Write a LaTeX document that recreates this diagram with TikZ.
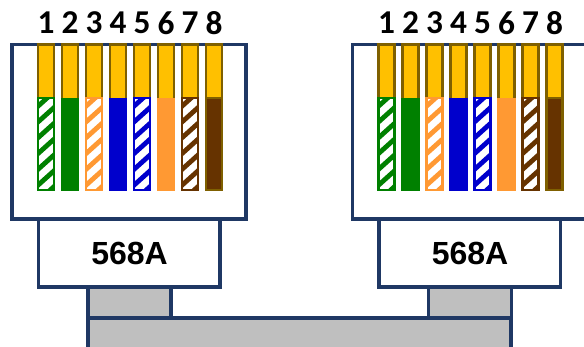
\documentclass[tikz,border=0pt]{standalone}
\usepackage{xcolor}
\usepackage{fontspec}
\setmainfont{Liberation Sans}
\newfontfamily\pinfont{Carlito}
\usetikzlibrary{positioning}
\definecolor{navy}{HTML}{1F3864}
\definecolor{plugGray}{HTML}{BFBFBF}
\definecolor{gold}{HTML}{FFC000}
\definecolor{darkGold}{HTML}{7F6000}
\definecolor{wireGreen}{HTML}{008000}
\definecolor{wireOrange}{HTML}{FF9933}
\definecolor{wireBlue}{HTML}{0000CC}
\definecolor{wireBrown}{HTML}{663300}
\tikzset{
    outline/.style={draw=navy, line width=2.4pt},
    contact/.style={fill=gold, draw=darkGold, line width=1.6pt},
    pinlabel/.style={font=\pinfont\bfseries\fontsize{25}{25}\selectfont, text=black},
    standard/.style={font=\bfseries\fontsize{24}{24}\selectfont, text=black}
}
\begin{document}
\begin{tikzpicture}[x=0.75pt, y=-0.75pt]
    \useasboundingbox (0,0) rectangle (584,346);
    \clip (0,0) rectangle (584,346);
    % cable between the two plugs
    \draw[outline, fill=plugGray] (88,318) rectangle (511,360);
    \foreach \ox/\name in {0/left, 340.5/right}
    {
        \begin{scope}[xshift=\ox*0.75pt]
            \draw[outline, fill=plugGray] (88,287) rectangle (171,318);
            \draw[outline, fill=white] (12,44.5) rectangle (246,219);
            \draw[outline, fill=white] (38.5,219) rectangle (220,287);
            \node[standard] (\name tab) at (129.5,253) {568A};
            \foreach \n/\c/\s in {1/wireGreen/1, 2/wireGreen/0, 3/wireOrange/1, 4/wireBlue/0, 5/wireBlue/1, 6/wireOrange/0, 7/wireBrown/1, 8/wireBrown/0}
            {
                \pgfmathsetmacro{\xa}{38+24*(\n-1)}
                \pgfmathsetmacro{\xb}{\xa+16}
                \node[pinlabel] (\name pin\n) at (\xa+8,23) {\n};
                \draw[contact] (\xa,44.5) rectangle (\xb,113);
                \ifnum\s=1
                    \fill[white] (\xa,98) rectangle (\xb,190);
                    \begin{scope}
                        \clip (\xa,98) rectangle (\xb,190);
                        \foreach \k in {0,...,6}
                        {
                            \draw[\c, line width=3.6pt] (\xa-2,108+15.8*\k) -- (\xb+2,90+15.8*\k);
                        }
                    \end{scope}
                    \draw[\c, line width=1.8pt] (\xa,98) rectangle (\xb,190);
                \else
                    \fill[\c] (\xa-1.1,97.5) rectangle (\xb+1.1,191);
                \fi
            }
            % last pin keeps its gold edge round the solid wire
            \draw[darkGold, line width=1.6pt] (206,98) rectangle (222,190);
        \end{scope}
    }
\end{tikzpicture}
\end{document}
